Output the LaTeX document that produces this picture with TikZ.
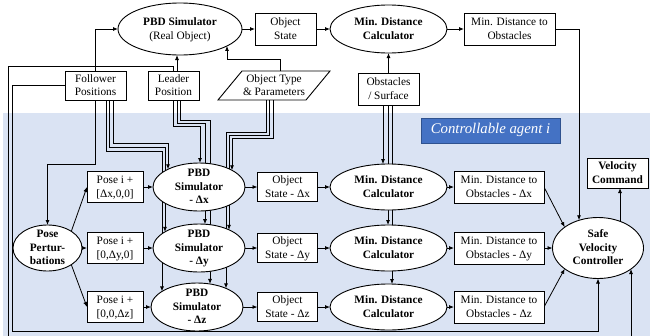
\documentclass[tikz,border=0pt]{standalone}
\usepackage{fontspec}
\setmainfont{Liberation Serif}
\usetikzlibrary{arrows.meta,calc,shapes.geometric}
\pgfdeclarelayer{back}
\pgfdeclarelayer{lines}
\pgfsetlayers{back,lines,main}
\definecolor{agentbg}{HTML}{DAE3F3}
\definecolor{labfill}{HTML}{4472C4}
\definecolor{labdraw}{HTML}{2F528F}
\newcommand\ctext[1]{\smash{\makebox[0pt]{\raisebox{-3.5pt}{\begin{tabular}{@{}c@{}}#1\end{tabular}}}}}
\newcommand\Ecoord[6]{\coordinate (#6) at ($(#1.center)+(#2,{#5*(#4)*sqrt(1-((#2)/(#3))^2)})$);}
\tikzset{
  base/.style={inner sep=0pt, outer sep=0pt, font=\fontsize{11.3}{13.5}\selectfont},
  box/.style={base, draw, fill=white, line width=0.9pt, rectangle},
  ell/.style={base, draw, fill=white, line width=0.9pt, ellipse},
  bf/.style={font=\fontsize{11.3}{13.5}\selectfont\bfseries},
  arr/.style={line width=0.8pt, -{Latex[length=5pt,width=4pt]}},
}
\begin{document}
\begin{tikzpicture}[x=1pt,y=-1pt]
\useasboundingbox (0,0) rectangle (650,335);
\begin{pgfonlayer}{back}
  \fill[agentbg] (3,113) rectangle (650,340);
\end{pgfonlayer}
% top row
\node[ell, minimum width=124pt, minimum height=52pt] (ro) at (180,29) {\ctext{\textbf{PBD Simulator}\\(Real Object)}};
\node[box, minimum width=61pt, minimum height=32pt] (os) at (285.5,29) {\ctext{Object\\State}};
\node[ell, bf, minimum width=117pt, minimum height=48pt] (mdc) at (388.5,29) {\ctext{Min. Distance\\Calculator}};
\node[box, minimum width=91pt, minimum height=32pt] (mdo) at (509.5,29) {\ctext{Min. Distance to\\Obstacles}};
% inputs
\node[box, minimum width=61pt, minimum height=29pt] (fp) at (95.5,85.5) {\ctext{Follower\\Positions}};
\node[box, minimum width=51pt, minimum height=29pt] (lp) at (173.5,85.5) {\ctext{Leader\\Position}};
\node[base, rectangle, minimum width=88pt, minimum height=29pt] (ot) at (274,85.5) {\ctext{Object Type\\\& Parameters}};
\draw[line width=0.9pt] ($(ot.center)+(-56,14.5)$) -- ($(ot.center)+(-32,-14.5)$) -- ($(ot.center)+(56,-14.5)$) -- ($(ot.center)+(32,14.5)$) -- cycle;
\node[box, minimum width=61pt, minimum height=32pt] (obs) at (388.5,89) {\ctext{Obstacles\\/ Surface}};
% agent label
\node[base, draw=labdraw, fill=labfill, text=white, line width=0.7pt, minimum width=139pt, minimum height=25pt] (lab) at (490.5,130.5) {\fontsize{14.8}{16}\selectfont\itshape\ctext{Controllable agent i}};
\node[box, bf, minimum width=61pt, minimum height=30pt] (vc) at (617.5,173) {\ctext{Velocity\\Command}};
% perturbation
\node[ell, bf, minimum width=69pt, minimum height=46pt] (pp) at (47.5,248) {\ctext{Pose\\Pertur-\\bations}};
\node[box, minimum width=56pt, minimum height=31pt] (posx) at (115,187) {\ctext{Pose i +\\{[}Δx,0,0{]}}};
\node[box, minimum width=56pt, minimum height=31pt] (posy) at (115,248) {\ctext{Pose i +\\{[}0,Δy,0{]}}};
\node[box, minimum width=56pt, minimum height=31pt] (posz) at (115,307) {\ctext{Pose i +\\{[}0,0,Δz{]}}};
\node[ell, bf, minimum width=92pt, minimum height=48pt] (pbdx) at (199,187) {\ctext{PBD\\Simulator\\- Δx}};
\node[ell, bf, minimum width=92pt, minimum height=48pt] (pbdy) at (199,248) {\ctext{PBD\\Simulator\\- Δy}};
\node[ell, bf, minimum width=92pt, minimum height=48pt] (pbdz) at (197,307) {\ctext{PBD\\Simulator\\- Δz}};
\node[box, minimum width=60pt, minimum height=29pt] (osx) at (287.5,187) {\ctext{Object\\State - Δx}};
\node[box, minimum width=60pt, minimum height=29pt] (osy) at (287.5,248) {\ctext{Object\\State - Δy}};
\node[box, minimum width=60pt, minimum height=29pt] (osz) at (287.5,307) {\ctext{Object\\State - Δz}};
\node[ell, bf, minimum width=117pt, minimum height=46pt] (mcx) at (388.5,187) {\ctext{Min. Distance\\Calculator}};
\node[ell, bf, minimum width=117pt, minimum height=46pt] (mcy) at (388.5,248) {\ctext{Min. Distance\\Calculator}};
\node[ell, bf, minimum width=117pt, minimum height=46pt] (mcz) at (388.5,307) {\ctext{Min. Distance\\Calculator}};
\node[box, minimum width=90pt, minimum height=32pt] (mbx) at (499,187) {\ctext{Min. Distance to\\Obstacles - Δx}};
\node[box, minimum width=90pt, minimum height=32pt] (mby) at (499,248) {\ctext{Min. Distance to\\Obstacles - Δy}};
\node[box, minimum width=90pt, minimum height=32pt] (mbz) at (499,307) {\ctext{Min. Distance to\\Obstacles - Δz}};
\node[ell, bf, minimum width=91pt, minimum height=61pt] (svc) at (598,248) {\ctext{Safe\\Velocity\\Controller}};
% contact points
\Ecoord{svc}{-19}{45.5}{30.5}{-1}{svcT}
\Ecoord{svc}{22}{45.5}{30.5}{-1}{svcV}
\Ecoord{svc}{33}{45.5}{30.5}{1}{svcR}
\Ecoord{ro}{47}{62}{26}{1}{roB}
\Ecoord{pbdx}{-31}{46}{24}{-1}{fx}
\Ecoord{pbdy}{-34}{46}{24}{-1}{fy}
\Ecoord{pbdz}{-35}{46}{24}{-1}{fz}
\Ecoord{pbdx}{1}{46}{24}{-1}{lx}
\Ecoord{pbdy}{6}{46}{24}{-1}{ly}
\Ecoord{pbdz}{13}{46}{24}{-1}{lz}
\Ecoord{pbdx}{33}{46}{24}{-1}{ox}
\Ecoord{pbdy}{30}{46}{24}{-1}{oy}
\Ecoord{pbdz}{29}{46}{24}{-1}{oz}
\Ecoord{mcx}{-5.5}{58.5}{23}{-1}{bx}
\Ecoord{mcy}{-0.5}{58.5}{23}{-1}{by}
\Ecoord{mcz}{3.5}{58.5}{23}{-1}{bz}
\coordinate (lpA) at ($(lp.north)+(3.5,0)$);
\coordinate (lpB) at ($(lp.north)+(-0.5,0)$);
\coordinate (otT) at ($(ot.north)+(6,0)$);
\begin{pgfonlayer}{lines}
  % top row
  \draw[arr] (ro.east) -- (os.west);
  \draw[arr] (os.east) -- (mdc.west);
  \draw[arr] (mdc.east) -- (mdo.west);
  \draw[arr] (mdo.east) -| (svcT);
  \draw[arr] (obs.north) -- (mdc.south);
  \draw[arr] (fp.north) |- (ro.west);
  \draw[arr] (lpA) -- (lpA |- ro.south);
  \draw[arr] (otT) -- ++(0,-12) -| (roB);
  % to perturbations
  \draw[arr] (fp.south) |- (pp.north |- 0,164) -- (pp.north);
  % follower bundle
  \draw[arr] ($(fp.south)+(17.5,0)$) -- ++(0,43) -| (fx);
  \draw[arr] ($(fp.south)+(13.5,0)$) -- ++(0,47) -| (fy);
  \draw[arr] ($(fp.south)+(10.5,0)$) -- ++(0,51) -| (fz);
  % leader bundle
  \draw[arr] ($(lp.south)+(-0.5,0)$) -- ++(0,26) -| (lx);
  \draw[arr] ($(lp.south)+(3.5,0)$) -- ++(0,23) -| (ly);
  \draw[arr] ($(lp.south)+(6.5,0)$) -- ++(0,20) -| (lz);
  % object type bundle
  \draw[arr] ($(ot.south)+(-1,0)$) -- ++(0,38) -| (ox);
  \draw[arr] ($(ot.south)+(-5,0)$) -- ++(0,35) -| (oy);
  \draw[arr] ($(ot.south)+(-8,0)$) -- ++(0,32) -| (oz);
  % obstacles bundle
  \draw[arr] ($(obs.south)+(-5.5,0)$) -- (bx);
  \draw[arr] ($(obs.south)+(-0.5,0)$) -- (by);
  \draw[arr] ($(obs.south)+(3.5,0)$) -- (bz);
  % rows
  \draw[arr] (pp.35) -- (posx.west);
  \draw[arr] (pp.east) -- (posy.west);
  \draw[arr] (pp.-35) -- (posz.west);
  \foreach \r in {x,y,z} {
    \draw[arr] (pos\r.east) -- (pbd\r.west |- pos\r.east);
    \draw[arr] (pbd\r.east |- os\r.west) -- (os\r.west);
    \draw[arr] (os\r.east) -- (mc\r.west);
    \draw[arr] (mc\r.east) -- (mb\r.west);
  }
  \draw[arr] (mbx.east) -- (svc.148);
  \draw[arr] (mby.east) -- (svc.west);
  \draw[arr] (mbz.east) -- (svc.212);
  \draw[arr] (svcV) -- (svcV |- vc.south);
  % feedback
  \draw[arr] (fp.west) -| (12,331) -| (svc.south);
  \draw[arr] (lpB) -- ++(0,-5) -| (8,345) -| (svcR);
\end{pgfonlayer}
\end{tikzpicture}
\end{document}
